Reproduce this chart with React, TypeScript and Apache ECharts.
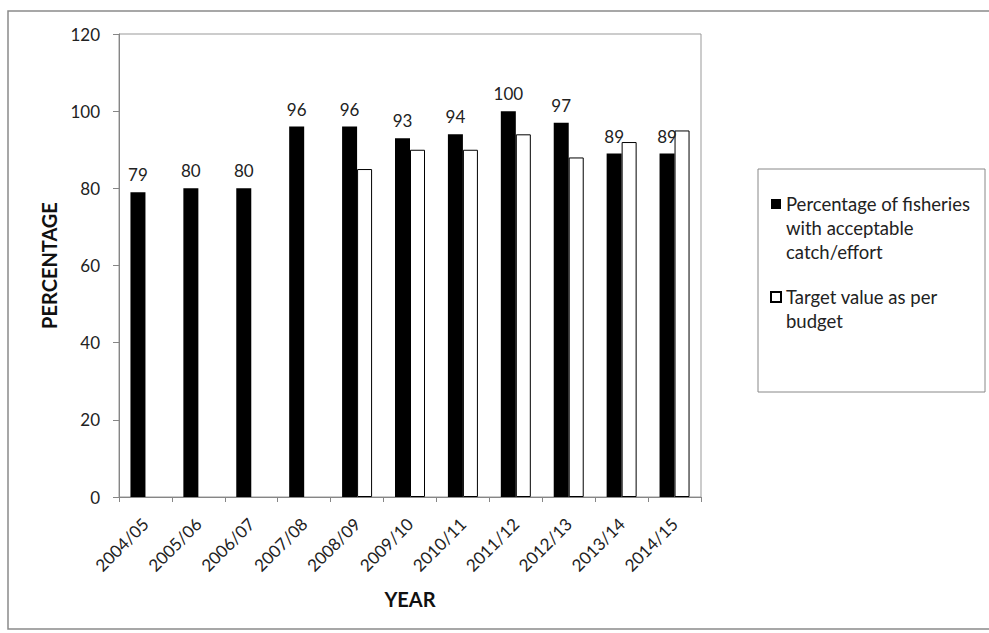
import React, { useEffect, useRef } from "react";
import * as echarts from "echarts";

const years = ["2004/05", "2005/06", "2006/07", "2007/08", "2008/09", "2009/10", "2010/11", "2011/12", "2012/13", "2013/14", "2014/15"];
const actualValues = [79, 80, 80, 96, 96, 93, 94, 100, 97, 89, 89];
const targetValues: (number | null)[] = [null, null, null, null, 85, 90, 90, 94, 88, 92, 95];
const yTicks = [0, 20, 40, 60, 80, 100, 120];
const seriesNames = ["Percentage of fisheries with acceptable catch/effort", "Target value as per budget"];
const legendLabels = ["Percentage of fisheries\nwith acceptable\ncatch/effort", "Target value as per\nbudget"];

const FONT = "Lato, 'Open Sans', sans-serif";

export default function App() {
  const ref = useRef<HTMLDivElement>(null);
  useEffect(() => {
    if (!ref.current) return;
    const chart = echarts.init(ref.current, null, { renderer: "svg" });
    chart.setOption({
      animation: false,
      backgroundColor: "#fff",
      textStyle: { fontFamily: FONT },
      grid: { left: 119, right: 288, top: 34, bottom: 136, show: true, borderColor: "#999", borderWidth: 1 },
      legend: {
        orient: "vertical",
        left: 770,
        top: 192,
        padding: 0,
        itemWidth: 10,
        itemHeight: 60,
        itemGap: 14,
        selectedMode: false,
        data: [
          { name: seriesNames[0], icon: "path://M0,0 M0,1 L10,1 L10,11 L0,11 Z M10,60" },
          { name: seriesNames[1], icon: "path://M0,0 M0,13 L10,13 L10,23 L0,23 Z M10,60" },
        ],
        formatter: (n: string) => legendLabels[seriesNames.indexOf(n)],
        textStyle: { fontFamily: FONT, fontSize: 18.5, color: "#222", lineHeight: 24 },
      },
      xAxis: {
        type: "category",
        data: years,
        name: "YEAR",
        nameLocation: "middle",
        nameGap: 92,
        nameTextStyle: { fontFamily: FONT, fontSize: 20, fontWeight: "bold", color: "#111" },
        axisLine: { lineStyle: { color: "#868686" } },
        axisTick: { show: true, length: 5, lineStyle: { color: "#868686" } },
        axisLabel: { rotate: 45, fontSize: 17, color: "#222", margin: 24, fontFamily: FONT, interval: 0 },
      },
      yAxis: {
        type: "value",
        min: 0,
        max: 120,
        interval: 20,
        name: "PERCENTAGE",
        nameLocation: "middle",
        nameGap: 60,
        nameTextStyle: { fontFamily: FONT, fontSize: 20, fontWeight: "bold", color: "#111" },
        axisLine: { show: true, lineStyle: { color: "#868686" } },
        axisTick: { show: true, length: 6, lineStyle: { color: "#868686" } },
        splitLine: { show: false },
        axisLabel: {
          fontSize: 17,
          color: "#222",
          margin: 19,
          fontFamily: FONT,
          formatter: (v: number) => (yTicks.includes(v) ? String(v) : ""),
        },
      },
      series: [
        {
          name: seriesNames[0],
          type: "bar",
          data: actualValues,
          barWidth: 15,
          barGap: "0%",
          itemStyle: { color: "#000", borderColor: "#000", borderWidth: 0 },
          label: { show: true, position: "top", distance: 9, fontSize: 17, color: "#222", fontFamily: FONT },
        },
        {
          name: seriesNames[1],
          type: "bar",
          data: targetValues.map((v) => (v === null ? "-" : v)),
          barWidth: 15,
          barGap: "0%",
          itemStyle: { color: "#fff", borderColor: "#000", borderWidth: 1 },
        },
      ],
      graphic: [
        { type: "rect", shape: { x: 8, y: 11, width: 1000, height: 618 }, style: { fill: "none", stroke: "#8a8a8a", lineWidth: 1.5 }, silent: true, z: -1 },
        { type: "rect", shape: { x: 758, y: 169, width: 227, height: 223 }, style: { fill: "none", stroke: "#888", lineWidth: 1 }, silent: true },
      ],
    });
    return () => chart.dispose();
  }, []);
  return <div ref={ref} style={{ position: "absolute", left: 0, top: 0, width: 989, height: 633 }} />;
}
